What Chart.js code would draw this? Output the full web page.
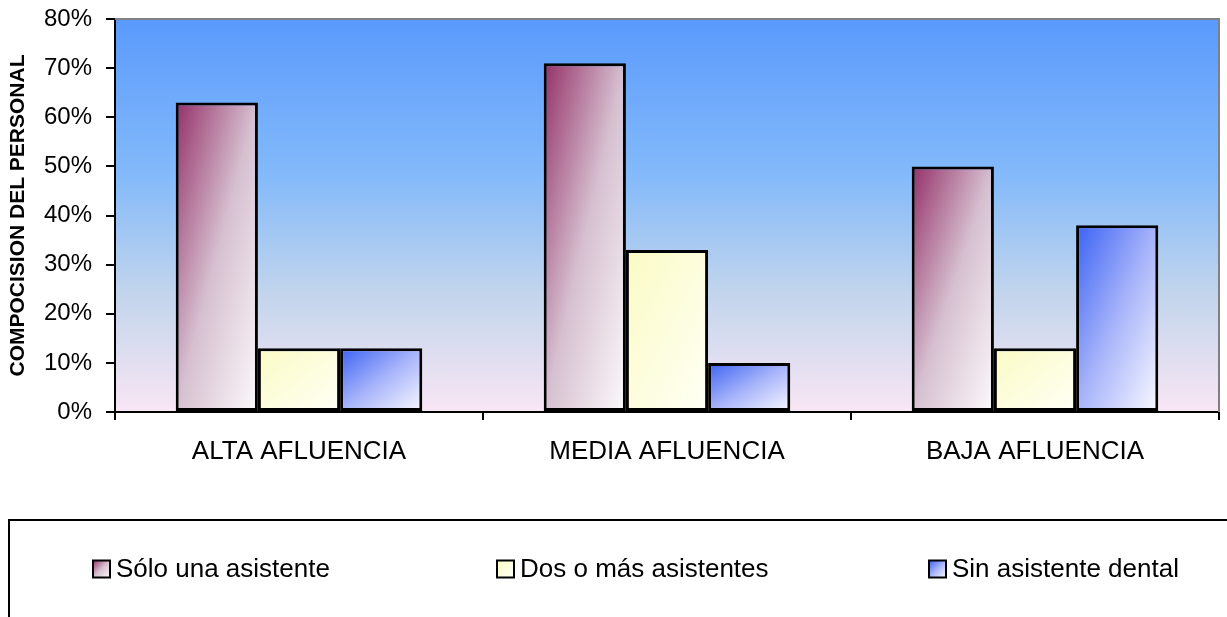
<!DOCTYPE html>
<html>
<head>
<meta charset="utf-8">
<title>Composición del personal</title>
<script src="https://cdn.jsdelivr.net/npm/chart.js@4.4.1/dist/chart.umd.min.js"></script>
<style>
  html, body { margin: 0; padding: 0; background: #fff; }
  #wrap { width: 1227px; height: 617px; position: relative; }
</style>
</head>
<body>
<div id="wrap"><canvas id="canvas"></canvas></div>
<script>
// categories and series values (percent)
var categorias = ['ALTA AFLUENCIA', 'MEDIA AFLUENCIA', 'BAJA AFLUENCIA'];
var seriesLabels = ['Sólo una asistente', 'Dos o más asistentes', 'Sin asistente dental'];
var soloUna = [63, 71, 50];
var dosOMas = [13, 33, 13];
var sinAsistente = [13, 10, 38];
var yTicks = [0, 10, 20, 30, 40, 50, 60, 70, 80];

var FONT = '"Liberation Sans", Arial, sans-serif';
var CAT_PCT = 0.67;

// gradient colour stops per series (top-left -> bottom-right)
var fills = [
  ['rgb(148,48,104)', 'rgb(214,192,208)', 'rgb(252,250,252)'],
  ['rgb(250,250,196)', 'rgb(253,253,222)', 'rgb(255,255,246)'],
  ['rgb(58,98,244)', 'rgb(168,180,250)', 'rgb(250,250,255)']
];

// diagonal fill stretched to the box, like an office chart shape gradient
function boxGradient(ctx, x, y, w, h, stops) {
  var k = 2 * w * h / (w * w + h * h);
  var g = ctx.createLinearGradient(x, y, x + k * h, y + k * w);
  g.addColorStop(0, stops[0]);
  g.addColorStop(0.5, stops[1]);
  g.addColorStop(1, stops[2]);
  return g;
}

function barFill(seriesIndex) {
  return function(context) {
    var chart = context.chart;
    var xScale = chart.scales.x;
    var yScale = chart.scales.y;
    if (context.type !== 'data' || !chart.chartArea || !xScale || !yScale) {
      return fills[seriesIndex][1];
    }
    var center = xScale.getPixelForValue(context.dataIndex);
    var groupW = xScale.width / categorias.length * CAT_PCT;
    var barW = groupW / chart.data.datasets.length;
    var left = center - groupW / 2 + context.datasetIndex * barW;
    var top = yScale.getPixelForValue(context.raw);
    var bottom = yScale.getPixelForValue(0);
    return boxGradient(chart.ctx, left, top, barW, bottom - top, fills[seriesIndex]);
  };
}

// sky-blue to pink backdrop behind the bars
var plotBackground = {
  id: 'plotBackground',
  beforeDraw: function(chart) {
    var a = chart.chartArea;
    var ctx = chart.ctx;
    var g = ctx.createLinearGradient(0, a.top, 0, a.bottom);
    g.addColorStop(0, '#5a9afc');
    g.addColorStop(0.4, '#84bafa');
    g.addColorStop(0.7, '#c2d5ec');
    g.addColorStop(1, '#f9e6f4');
    ctx.save();
    ctx.fillStyle = g;
    ctx.fillRect(a.left, a.top, a.right - a.left, a.bottom - a.top);
    ctx.restore();
  },
  afterDatasetsDraw: function(chart) {
    // grey frame on top and right of the plot area
    var a = chart.chartArea;
    var ctx = chart.ctx;
    ctx.save();
    ctx.strokeStyle = '#808080';
    ctx.lineWidth = 2;
    ctx.beginPath();
    ctx.moveTo(a.left, a.top);
    ctx.lineTo(a.right, a.top);
    ctx.lineTo(a.right, a.bottom);
    ctx.stroke();
    ctx.restore();
  }
};

// legend in a framed box under the chart
var boxLegend = {
  id: 'boxLegend',
  afterDraw: function(chart) {
    var ctx = chart.ctx;
    var slot = 421;
    var rowY = 569;
    ctx.save();
    ctx.strokeStyle = '#000';
    ctx.lineWidth = 2;
    ctx.strokeRect(9, 520, 1300, 200);
    ctx.font = '26px ' + FONT;
    ctx.textBaseline = 'middle';
    ctx.textAlign = 'left';
    chart.data.datasets.forEach(function(ds, i) {
      var tw = ctx.measureText(ds.label).width;
      var sw = 17;
      var itemW = sw + 6 + tw;
      var cx = 1 + slot * (i + 0.5);
      var x = Math.round(cx - itemW / 2);
      var y = rowY - sw / 2;
      ctx.fillStyle = boxGradient(ctx, x, y, sw, sw, fills[i]);
      ctx.fillRect(x, y, sw, sw);
      ctx.strokeStyle = '#000';
      ctx.strokeRect(x, y, sw, sw);
      ctx.fillStyle = '#000';
      ctx.fillText(ds.label, x + sw + 6, rowY + 1);
    });
    ctx.restore();
  }
};

var datasets = [soloUna, dosOMas, sinAsistente].map(function(values, i) {
  return {
    label: seriesLabels[i],
    data: values,
    backgroundColor: barFill(i),
    borderColor: '#000',
    borderWidth: 3,
    borderSkipped: false,
    barPercentage: 1,
    categoryPercentage: CAT_PCT
  };
});

new Chart(document.getElementById('canvas'), {
  type: 'bar',
  data: {
    labels: categorias,
    datasets: datasets
  },
  options: {
    responsive: true,
    maintainAspectRatio: false,
    animation: false,
    layout: {
      padding: { top: 19, right: 8, left: 0, bottom: 0 }
    },
    plugins: {
      legend: { display: false },
      tooltip: { enabled: false }
    },
    scales: {
      x: {
        afterFit: function(scale) {
          scale.height = 205;
          scale.paddingLeft = 0;
          scale.paddingRight = 0;
        },
        grid: {
          offset: true,
          drawOnChartArea: false,
          color: '#000',
          lineWidth: 2,
          tickLength: 8
        },
        border: { color: '#000', width: 2 },
        ticks: {
          color: '#000',
          padding: 16,
          font: { family: FONT, size: 26 }
        }
      },
      y: {
        min: 0,
        max: 80,
        afterFit: function(scale) {
          scale.width = 115;
          scale.paddingTop = 0;
          scale.paddingBottom = 0;
        },
        afterBuildTicks: function(scale) {
          scale.ticks = yTicks.map(function(v) { return { value: v }; });
        },
        grid: {
          drawOnChartArea: false,
          color: '#000',
          lineWidth: 2,
          tickLength: 9
        },
        border: { color: '#000', width: 2 },
        ticks: {
          color: '#000',
          padding: 14,
          font: { family: FONT, size: 24 },
          callback: function(v) { return v + '%'; }
        },
        title: {
          display: true,
          text: 'COMPOCISION DEL PERSONAL',
          color: '#000',
          padding: { top: 6, bottom: 0 },
          font: { family: FONT, size: 21, weight: 'bold' }
        }
      }
    }
  },
  plugins: [plotBackground, boxLegend]
});
</script>
</body>
</html>
